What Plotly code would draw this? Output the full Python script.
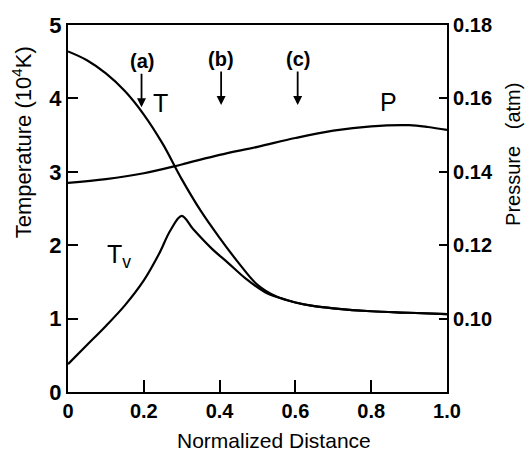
import plotly.graph_objects as go

# Data
x_T = [0, 0.05, 0.1, 0.15, 0.2, 0.25, 0.3, 0.35, 0.4, 0.45, 0.5, 0.55, 0.6, 0.65, 0.7, 0.8, 0.9, 1.0]
T = [4.64, 4.52, 4.34, 4.10, 3.78, 3.38, 2.90, 2.47, 2.10, 1.76, 1.46, 1.30, 1.22, 1.17, 1.14, 1.10, 1.08, 1.06]

x_Tv = [0, 0.05, 0.1, 0.15, 0.2, 0.24, 0.27, 0.3, 0.33, 0.38, 0.42, 0.47, 0.52, 0.56, 0.6, 0.65, 0.7, 0.8, 0.9, 1.0]
Tv = [0.38, 0.64, 0.90, 1.18, 1.52, 1.88, 2.20, 2.40, 2.22, 1.95, 1.77, 1.54, 1.36, 1.28, 1.22, 1.17, 1.14, 1.10, 1.08, 1.06]

x_P = [0, 0.1, 0.2, 0.3, 0.4, 0.5, 0.6, 0.7, 0.8, 0.9, 0.95, 1.0]
P = [0.1370, 0.1380, 0.1396, 0.1420, 0.1446, 0.1468, 0.1492, 0.1512, 0.1524, 0.1527, 0.1522, 0.1514]

x_ticks = [0, 0.2, 0.4, 0.6, 0.8, 1.0]
x_ticktext = ["0", "0.2", "0.4", "0.6", "0.8", "1.0"]
y_ticks = [0, 1, 2, 3, 4, 5]
p_ticks = [0.10, 0.12, 0.14, 0.16, 0.18]
p_ticktext = ["0.10", "0.12", "0.14", "0.16", "0.18"]

marker_x = [0.194, 0.404, 0.606]
marker_tip = [3.88, 3.91, 3.91]
marker_labels = ["(a)", "(b)", "(c)"]

FONT = "Liberation Sans"
line = dict(color="black", width=2.2, shape="spline", smoothing=1.0)

fig = go.Figure()
fig.add_trace(go.Scatter(x=x_T, y=T, mode="lines", line=line, showlegend=False))
fig.add_trace(go.Scatter(x=x_Tv, y=Tv, mode="lines", line=line, showlegend=False))
fig.add_trace(go.Scatter(x=x_P, y=P, mode="lines", line=line, yaxis="y2", showlegend=False))

annotations = []
for xm, ym, lab in zip(marker_x, marker_tip, marker_labels):
    annotations.append(dict(x=xm, y=ym, xref="x", yref="y", text=lab, showarrow=True,
                            ax=0, ay=-46, arrowhead=2, arrowsize=1, arrowwidth=1.8,
                            arrowcolor="black",
                            font=dict(family=FONT, size=20, color="black", weight="bold")))
annotations += [
    dict(x=0.243, y=3.94, xref="x", yref="y", text="T", showarrow=False,
         font=dict(family=FONT, size=25, color="black")),
    dict(x=0.845, y=3.95, xref="x", yref="y", text="P", showarrow=False,
         font=dict(family=FONT, size=25, color="black")),
    dict(x=0.135, y=1.85, xref="x", yref="y", text="T<sub>v</sub>", showarrow=False,
         font=dict(family=FONT, size=25, color="black")),
    # axis titles
    dict(x=-0.121, y=0.681, xref="paper", yref="paper", text="Temperature (10<sup>4</sup>K)",
         xanchor="center", yanchor="middle",
         textangle=-90, showarrow=False, font=dict(family=FONT, size=22, color="black")),
    dict(x=1.174, y=0.6485, xref="paper", yref="paper", text="Pressure   (atm)",
         xanchor="center", yanchor="middle",
         textangle=-90, showarrow=False, font=dict(family=FONT, size=20, color="black")),
    dict(x=0.5435, y=-0.131, xref="paper", yref="paper", text="Normalized Distance",
         xanchor="center", yanchor="middle",
         showarrow=False, font=dict(family=FONT, size=21, color="black")),
]

tickfont = dict(family=FONT, size=20, color="black", weight="bold")

fig.update_layout(
    width=527, height=453,
    margin=dict(l=68, r=80, t=25, b=61),
    plot_bgcolor="white", paper_bgcolor="white",
    font=dict(family=FONT, size=18, color="black"),
    xaxis=dict(range=[0, 1.0], tickvals=x_ticks, ticktext=x_ticktext,
               ticks="inside", ticklen=12, tickwidth=1.8, tickcolor="black",
               showline=True, linecolor="black", linewidth=2.2, mirror=True,
               showgrid=False, zeroline=False, tickfont=tickfont),
    yaxis=dict(range=[0, 5], tickvals=y_ticks,
               ticks="inside", ticklen=10, tickwidth=1.8, tickcolor="black",
               showline=True, linecolor="black", linewidth=2.2,
               showgrid=False, zeroline=False,
               tickfont=dict(family=FONT, size=22, color="black", weight="bold")),
    yaxis2=dict(range=[0.08, 0.18], tickvals=p_ticks, ticktext=p_ticktext,
                overlaying="y", side="right",
                ticks="inside", ticklen=8, tickwidth=1.8, tickcolor="black",
                showline=True, linecolor="black", linewidth=2.2,
                showgrid=False, zeroline=False, tickfont=tickfont),
    annotations=annotations,
)

fig.write_html("out.html")
